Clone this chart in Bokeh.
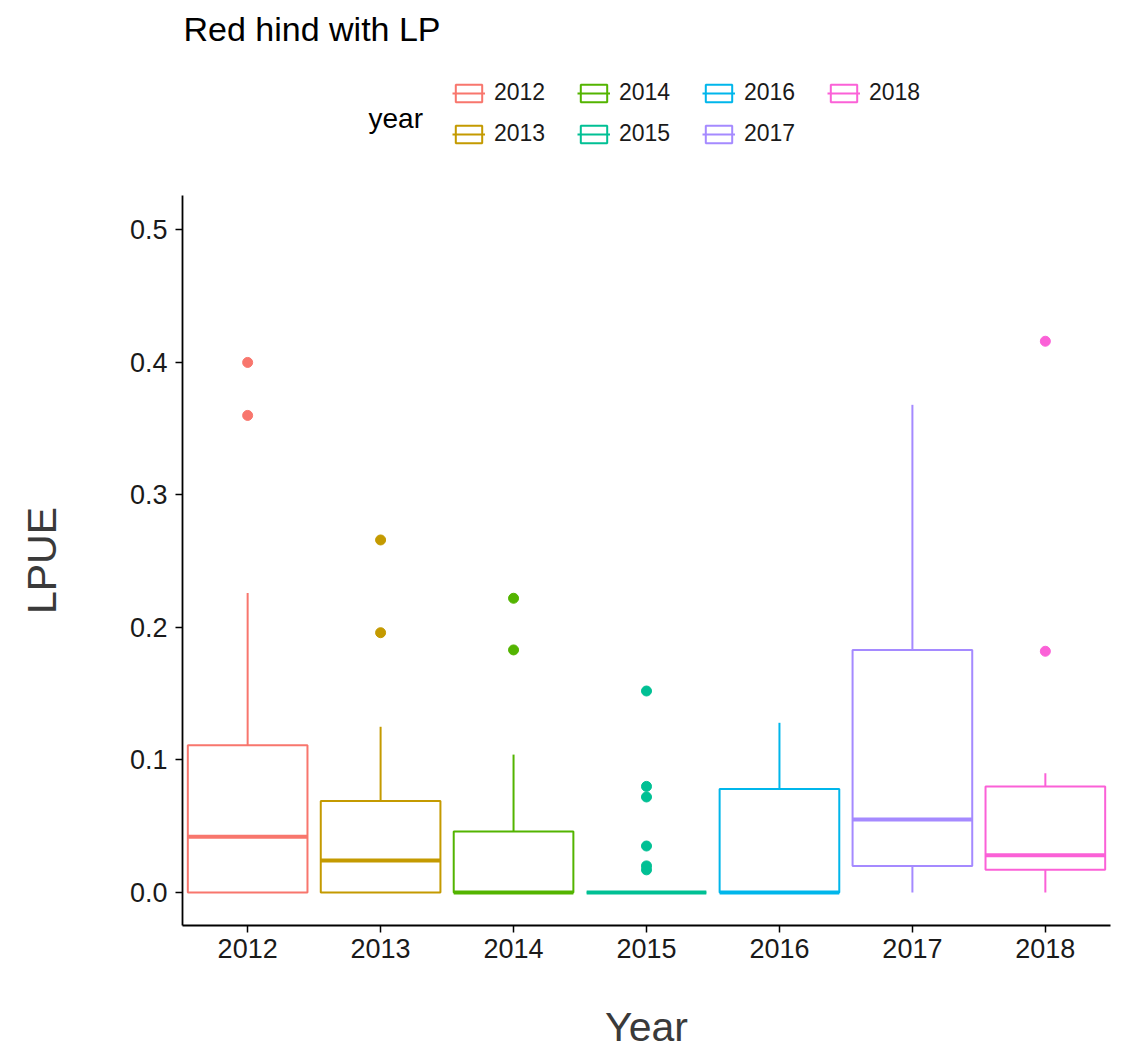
from bokeh.plotting import figure
from bokeh.layouts import column
from bokeh.models import (ColumnDataSource, Legend, LegendItem, FixedTicker, Range1d,
                          NumeralTickFormatter, Label)
from bokeh.embed import file_html
from bokeh.resources import INLINE

years = ["2012", "2013", "2014", "2015", "2016", "2017", "2018"]
colors = ["#F8766D", "#C49A00", "#53B400", "#00C094", "#00B6EB", "#A58AFF", "#FB61D7"]
q1 = [0.0, 0.0, 0.0, 0.0, 0.0, 0.020, 0.017]
median = [0.042, 0.024, 0.0, 0.0, 0.0, 0.055, 0.028]
q3 = [0.111, 0.069, 0.046, 0.0, 0.078, 0.183, 0.080]
whisk_lo = [0.0, 0.0, 0.0, 0.0, 0.0, 0.0, 0.0]
whisk_hi = [0.226, 0.125, 0.104, 0.0, 0.128, 0.368, 0.090]
outliers = [
    [0.400, 0.360],
    [0.266, 0.196],
    [0.222, 0.183],
    [0.152, 0.080, 0.072, 0.035, 0.020, 0.017],
    [],
    [],
    [0.416, 0.182],
]
y_ticks = [0.0, 0.1, 0.2, 0.3, 0.4, 0.5]

FONT = "Liberation Sans"
TOP_H = 160
W = 1113
FRAME_L, FRAME_R = 182, 1110

# ---------------- header figure: title + legend ----------------
# the header's frame is aligned with the main plot's frame by the column layout,
# so its x range is expressed in page pixels
head = figure(width=W, height=TOP_H, output_backend="svg", toolbar_location=None,
              x_range=Range1d(FRAME_L, FRAME_R), y_range=Range1d(TOP_H, 0),
              x_axis_location=None, y_axis_location=None, title_location=None,
              min_border_left=0, min_border_right=0, min_border_top=0, min_border_bottom=0)
head.xgrid.visible = False
head.ygrid.visible = False
head.outline_line_color = None

head.add_layout(Label(x=183, y=9, text="Red hind with LP", text_font=FONT,
                      text_font_size="34px", text_color="black", text_baseline="top"))
head.add_layout(Label(x=368, y=118, text="year", text_font=FONT, text_font_size="28px",
                      text_color="black", text_baseline="middle"))

items = []
for i, yr in enumerate(years):
    c = colors[i]
    # hidden proxy (outside the visible range) so the legend can draw its key
    proxy = ColumnDataSource(dict(x=[-1e6], y=[-1e6], left=[-1e6], right=[-1e6 + 1],
                                  bottom=[-1e6], top=[-1e6 + 1]))
    rw = head.scatter(x="x", y="y", source=proxy, marker="cross", size=34,
                      line_color=c, line_width=2)
    rq = head.quad(left="left", right="right", bottom="bottom", top="top", source=proxy,
                   fill_color="white", line_color=c, line_width=2)
    rs = head.segment(x0="x", y0="y", x1="x", y1="y", source=proxy, line_color=c, line_width=2)
    items.append(LegendItem(label=yr, renderers=[rw, rq, rs]))

legend = Legend(items=items, ncols=4, location=(452 - FRAME_L, 10),
                label_text_font=FONT, label_text_font_size="23px", label_text_color="#1a1a1a",
                glyph_width=33, glyph_height=22, label_height=33, label_width=75,
                spacing=8, label_standoff=9, border_line_color=None,
                background_fill_alpha=0, margin=0, padding=0)
head.add_layout(legend, "center")

# ---------------- main box plot ----------------
p = figure(width=W, height=899, output_backend="svg", toolbar_location=None,
           x_range=Range1d(0.51, 7.49), y_range=Range1d(-0.025, 0.526),
           title_location=None,
           min_border_left=FRAME_L, min_border_right=3, min_border_top=35, min_border_bottom=134)
p.xgrid.visible = False
p.ygrid.visible = False
p.outline_line_color = None

half = 0.45
for i, yr in enumerate(years):
    x = i + 1
    c = colors[i]
    box_src = ColumnDataSource(dict(left=[x - half], right=[x + half], bottom=[q1[i]], top=[q3[i]]))
    wh_src = ColumnDataSource(dict(x0=[x, x], y0=[q3[i], q1[i]], x1=[x, x], y1=[whisk_hi[i], whisk_lo[i]]))
    med_src = ColumnDataSource(dict(x0=[x - half], x1=[x + half], y=[median[i]]))
    out_src = ColumnDataSource(dict(x=[x] * len(outliers[i]), y=outliers[i]))
    p.segment(x0="x0", y0="y0", x1="x1", y1="y1", source=wh_src, line_color=c, line_width=2)
    p.quad(left="left", right="right", bottom="bottom", top="top", source=box_src,
           fill_color="white", line_color=c, line_width=2)
    p.segment(x0="x0", y0="y", x1="x1", y1="y", source=med_src, line_color=c, line_width=4)
    p.scatter(x="x", y="y", source=out_src, size=10, fill_color=c, line_color=c)

p.xaxis.ticker = FixedTicker(ticks=list(range(1, len(years) + 1)))
p.xaxis.major_label_overrides = {i + 1: yr for i, yr in enumerate(years)}
p.yaxis.ticker = FixedTicker(ticks=y_ticks)
p.yaxis.formatter = NumeralTickFormatter(format="0.0")
for ax in (p.xaxis, p.yaxis):
    ax.axis_line_color = "black"
    ax.axis_line_width = 1.8
    ax.major_tick_line_color = "black"
    ax.major_tick_line_width = 1.5
    ax.major_tick_out = 7
    ax.major_tick_in = 0
    ax.minor_tick_line_color = None
    ax.major_label_text_font = FONT
    ax.major_label_text_font_size = "27px"
    ax.major_label_text_color = "#1a1a1a"
    ax.axis_label_text_font = FONT
    ax.axis_label_text_font_size = "41px"
    ax.axis_label_text_font_style = "normal"
    ax.axis_label_text_color = "#3a3a3a"
p.xaxis.axis_label = "Year"
p.yaxis.axis_label = "LPUE"
p.xaxis.major_label_standoff = 6
p.yaxis.major_label_standoff = 8
p.xaxis.axis_label_standoff = 43
p.yaxis.axis_label_standoff = 62

layout = column(head, p, spacing=0)
open("out.html", "w").write(file_html(layout, INLINE))
